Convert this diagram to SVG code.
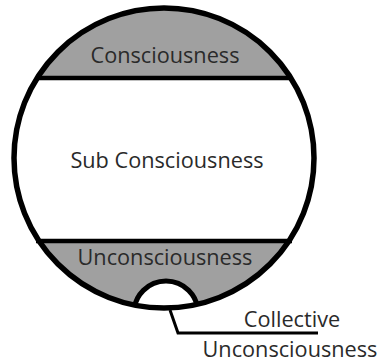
<svg xmlns="http://www.w3.org/2000/svg" width="381" height="363" viewBox="0 0 381 363">
<style>
.lbl{font-family:"Open Sans","Noto Sans",sans-serif;font-size:21.7px;fill:#2a2a2a;text-anchor:middle}
.ln{stroke:#000;fill:none}
</style>
<defs>
<clipPath id="inner"><circle cx="164" cy="158" r="149"/></clipPath>
</defs>
<rect width="381" height="363" fill="#fff"/>
<g id="consciousness">
<rect x="0" y="0" width="381" height="78" fill="#a0a0a0" clip-path="url(#inner)"/>
<text class="lbl" x="165" y="63">Consciousness</text>
</g>
<g id="sub-consciousness">
<text class="lbl" x="167" y="168">Sub Consciousness</text>
</g>
<g id="unconsciousness">
<rect x="0" y="241" width="381" height="122" fill="#a0a0a0" clip-path="url(#inner)"/>
<text class="lbl" x="165" y="265">Unconsciousness</text>
</g>
<g id="collective-unconsciousness">
<circle cx="166" cy="313" r="32" fill="#fff" stroke="#000" stroke-width="5" clip-path="url(#inner)"/>
<text class="lbl" x="292" y="327">Collective</text>
<text class="lbl" x="290" y="357">Unconsciousness</text>
</g>
<g id="connectors">
<line class="ln" x1="36" y1="78" x2="292" y2="78" stroke-width="4.5"/>
<line class="ln" x1="36" y1="241" x2="292" y2="241" stroke-width="4.5"/>
<circle class="ln" cx="164" cy="158" r="150" stroke-width="5.5"/>
<polyline class="ln" points="170,310 178,333 318,333" stroke-width="3"/>
</g>
</svg>
